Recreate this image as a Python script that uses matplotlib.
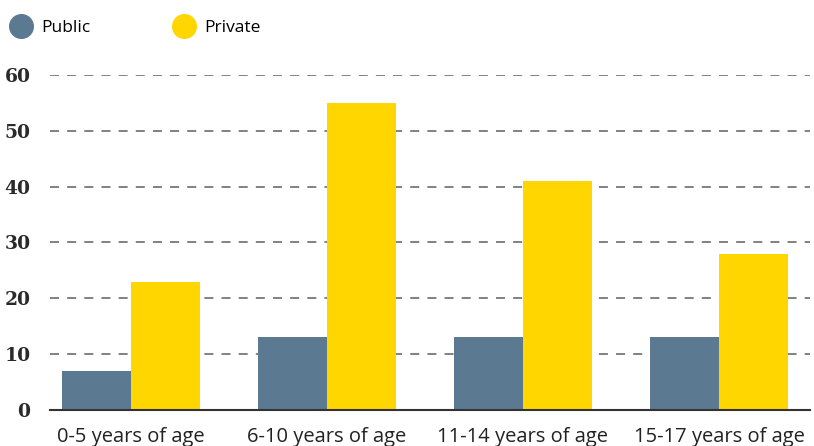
import numpy as np
import matplotlib
matplotlib.use("Agg")
import matplotlib.pyplot as plt
from matplotlib.lines import Line2D

categories = ["0-5 years of age", "6-10 years of age", "11-14 years of age", "15-17 years of age"]
public = [7, 13, 13, 13]
private = [23, 55, 41, 28]
yticks = [0, 10, 20, 30, 40, 50, 60]

c_public = "#5b7a91"
c_private = "#ffd600"

fig = plt.figure(figsize=(8.14, 4.46), dpi=100)
ax = fig.add_axes([0.0614, 0.0807, 0.9336, 0.7513])

x = np.arange(len(categories))
w = 0.352
ax.bar(x - w / 2, public, w, color=c_public, zorder=2)
ax.bar(x + w / 2, private, w, color=c_private, zorder=2)

ax.set_xlim(-0.413, 3.464)
ax.set_ylim(0, 60)
ax.set_yticks(yticks)
ax.set_yticklabels([str(t) for t in yticks], family="DejaVu Serif",
                   fontsize=13.5, fontweight="bold", color="#2a2a2a")
ax.set_xticks(x)
ax.set_xticklabels(categories, family="Open Sans", fontsize=14.5, color="#222222")
ax.tick_params(axis="both", length=0)
ax.tick_params(axis="y", pad=14)
ax.tick_params(axis="x", pad=12)

for t in yticks[1:]:
    ax.axhline(t, color="#777777", lw=1.3, ls=(0, (5, 4.5)), zorder=1)

for s in ["top", "right", "left"]:
    ax.spines[s].set_visible(False)
ax.spines["bottom"].set_color("#333333")
ax.spines["bottom"].set_linewidth(1.5)
ax.spines["bottom"].set_zorder(3)

handles = [
    Line2D([], [], marker="o", ls="none", ms=17, color=c_public, label="Public"),
    Line2D([], [], marker="o", ls="none", ms=17, color=c_private, label="Private"),
]
fig.legend(handles=handles, loc="upper left", bbox_to_anchor=(0.005, 0.97), ncol=2,
           frameon=False, handlelength=1.2, handletextpad=0.55, columnspacing=4.8,
           borderpad=0.2, borderaxespad=0.2,
           prop={"family": "Open Sans", "size": 12.5})

fig.savefig("out.png", dpi=100)
